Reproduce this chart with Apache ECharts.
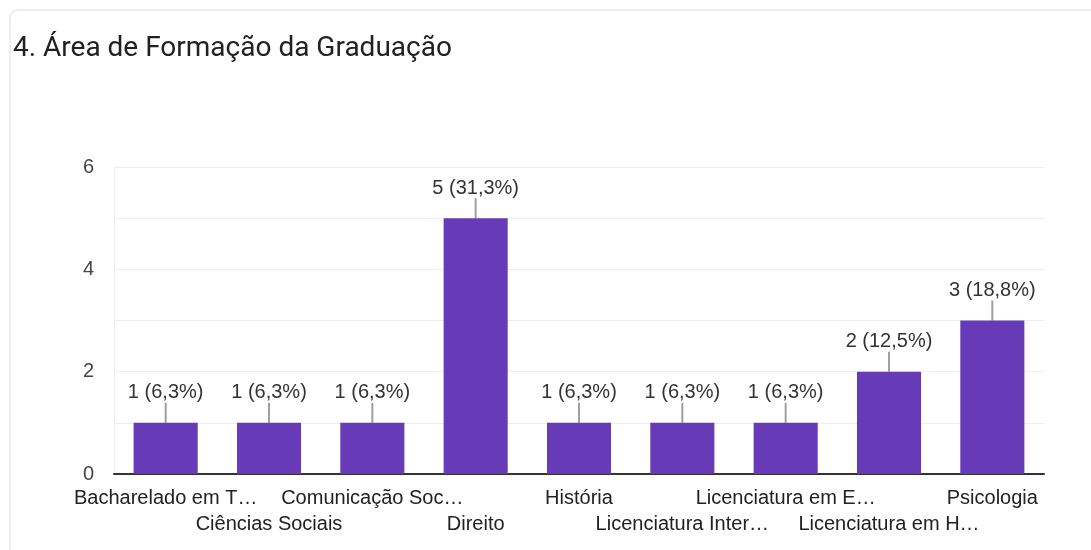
<!DOCTYPE html>
<html>
<head>
<meta charset="utf-8">
<script src="https://cdn.jsdelivr.net/npm/echarts@6/dist/echarts.min.js"></script>
<style>
  html, body { margin: 0; padding: 0; background: #fff; }
  #main { width: 1091px; height: 550px; }
</style>
</head>
<body>
<div id="main"></div>
<script>
var categories = [
    'Bacharelado em T…',
    'Ciências Sociais',
    'Comunicação Soc…',
    'Direito',
    'História',
    'Licenciatura Inter…',
    'Licenciatura em E…',
    'Licenciatura em H…',
    'Psicologia'
];
var counts = [1, 1, 1, 5, 1, 1, 1, 2, 3];
var percents = ['6,3', '6,3', '6,3', '31,3', '6,3', '6,3', '6,3', '12,5', '18,8'];
var yTicks = [0, 2, 4, 6];

var myChart = echarts.init(document.getElementById('main'));

var option = {
    backgroundColor: '#fff',
    animation: false,
    graphic: [
        {
            type: 'rect',
            shape: { x: 10, y: 10, width: 1100, height: 560, r: 8 },
            style: { fill: 'none', stroke: '#dadce0', lineWidth: 1 }
        }
    ],
    title: {
        text: '4. Área de Formação da Graduação',
        left: 8,
        top: 30,
        textStyle: {
            fontFamily: 'Roboto',
            fontSize: 28,
            fontWeight: 'normal',
            color: '#202124'
        }
    },
    grid: {
        left: 114,
        right: 47,
        top: 167,
        bottom: 76
    },
    xAxis: {
        type: 'category',
        data: categories,
        axisLine: { lineStyle: { color: '#333', width: 2 } },
        axisTick: { show: false },
        axisLabel: {
            interval: 0,
            color: '#222',
            fontFamily: 'Liberation Sans',
            fontSize: 20,
            lineHeight: 26,
            margin: 11,
            formatter: function (v) {
                var i = categories.indexOf(v);
                return i % 2 ? '\n' + v : v;
            }
        }
    },
    yAxis: {
        type: 'value',
        min: 0,
        max: 6,
        interval: 1,
        axisLine: { show: true, lineStyle: { color: '#eeeeee' } },
        axisTick: { show: false },
        splitLine: { lineStyle: { color: '#eeeeee' } },
        axisLabel: {
            color: '#444',
            fontFamily: 'Liberation Sans',
            fontSize: 20,
            margin: 20,
            formatter: function (v) {
                return yTicks.indexOf(v) >= 0 ? String(v) : '';
            }
        }
    },
    series: [
        {
            type: 'bar',
            data: counts,
            barWidth: '62%',
            itemStyle: { color: '#673ab7' },
            label: {
                show: true,
                position: 'top',
                distance: 4,
                color: '#333',
                fontFamily: 'Liberation Sans',
                fontSize: 20,
                formatter: function (p) {
                    return counts[p.dataIndex] + ' (' + percents[p.dataIndex] + '%)';
                }
            },
            labelLayout: { dy: -16 },
            labelLine: {
                show: true,
                lineStyle: { color: '#a0a0a0', width: 2 }
            }
        }
    ]
};

myChart.setOption(option);
</script>
</body>
</html>
